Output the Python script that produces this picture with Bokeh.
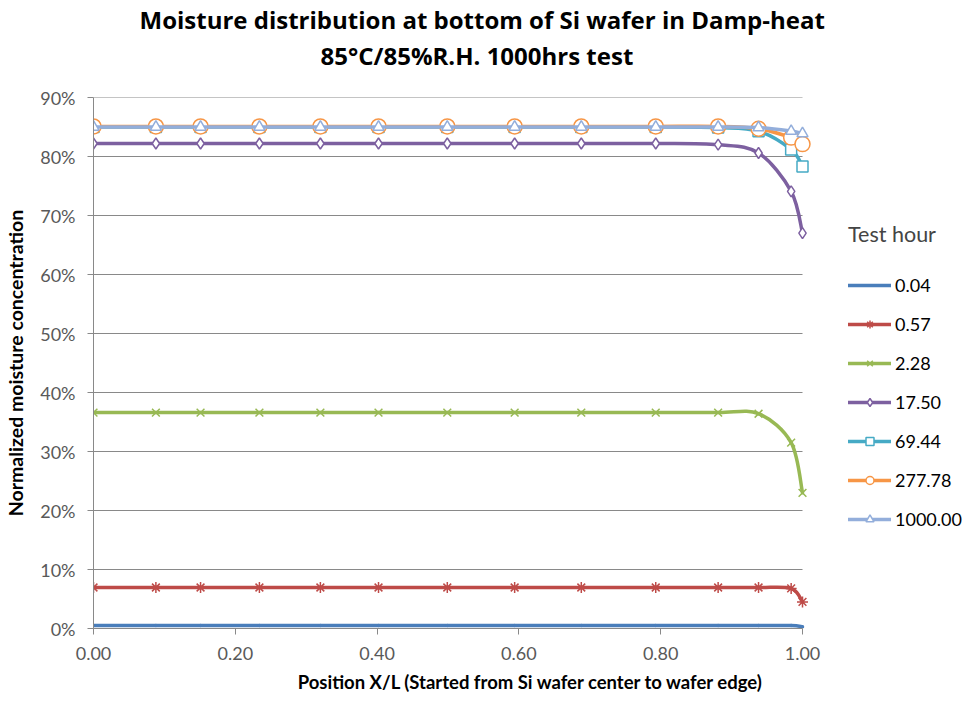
from bokeh.plotting import figure
from bokeh.models import (Range1d, FixedTicker, NumeralTickFormatter, Legend, Title,
                          LegendItem, ColumnDataSource)
from bokeh.embed import file_html
from bokeh.resources import INLINE

# ---------------- data ----------------
position = [0.0, 0.088, 0.151, 0.234, 0.320, 0.402, 0.499, 0.594, 0.688, 0.793,
            0.881, 0.938, 0.984, 1.0]

test_hours = ["0.04", "0.57", "2.28", "17.50", "69.44", "277.78", "1000.00"]

h_0_04 = [0.005, 0.005, 0.005, 0.005, 0.005, 0.005, 0.005, 0.005, 0.005, 0.005,
          0.005, 0.005, 0.005, 0.003]
h_0_57 = [0.0695, 0.0695, 0.0695, 0.0695, 0.0695, 0.0695, 0.0695, 0.0695, 0.0695, 0.0695,
          0.0695, 0.0695, 0.068, 0.045]
h_2_28 = [0.366, 0.366, 0.366, 0.366, 0.366, 0.366, 0.366, 0.366, 0.366, 0.366,
          0.366, 0.364, 0.315, 0.230]
h_17_50 = [0.822, 0.822, 0.822, 0.822, 0.822, 0.822, 0.822, 0.822, 0.822, 0.822,
           0.820, 0.806, 0.741, 0.670]
h_69_44 = [0.850, 0.850, 0.850, 0.850, 0.850, 0.850, 0.850, 0.850, 0.850, 0.850,
           0.849, 0.843, 0.812, 0.783]
h_277_78 = [0.851, 0.851, 0.851, 0.851, 0.851, 0.851, 0.851, 0.851, 0.851, 0.851,
            0.851, 0.847, 0.832, 0.821]
h_1000 = [0.850, 0.850, 0.850, 0.850, 0.850, 0.850, 0.850, 0.850, 0.850, 0.850,
          0.850, 0.849, 0.843, 0.839]

series_values = [h_0_04, h_0_57, h_2_28, h_17_50, h_69_44, h_277_78, h_1000]
colors = ["#4A7EBB", "#BE4B48", "#98B954", "#7D60A0", "#46AAC5", "#F79646", "#93AEDB"]
markers = [None, "asterisk", "x", "diamond", "square", "circle", "triangle"]
marker_sizes = [0, 11, 11, 11, 11, 15, 11]

x_ticks = [0.0, 0.2, 0.4, 0.6, 0.8, 1.0]
y_ticks = [0.0, 0.1, 0.2, 0.3, 0.4, 0.5, 0.6, 0.7, 0.8, 0.9]

title_line1 = "Moisture distribution at bottom of Si wafer in Damp-heat"
title_line2 = "85°C/85%R.H. 1000hrs test"

FONT = "Lato"
TFONT = "Open Sans"
GRID = "#898989"
TXT = "#595959"


def smooth_segments(xs, ys):
    """Catmull-Rom style Bezier control points (Excel 'smoothed line')."""
    n = len(xs)
    out = {k: [] for k in ("x0", "y0", "x1", "y1", "cx0", "cy0", "cx1", "cy1")}
    for i in range(n - 1):
        im1 = max(i - 1, 0)
        ip2 = min(i + 2, n - 1)
        out["x0"].append(xs[i]); out["y0"].append(ys[i])
        out["x1"].append(xs[i + 1]); out["y1"].append(ys[i + 1])
        out["cx0"].append(xs[i] + (xs[i + 1] - xs[im1]) / 6.0)
        out["cy0"].append(ys[i] + (ys[i + 1] - ys[im1]) / 6.0)
        out["cx1"].append(xs[i + 1] - (xs[ip2] - xs[i]) / 6.0)
        out["cy1"].append(ys[i + 1] - (ys[ip2] - ys[i]) / 6.0)
    return out


# frame spans to the right edge of the page so that the legend can sit inside it;
# the visible axis and grid are limited to the data domain 0..1
X_MAX = 875.0 / 709.0
p = figure(width=968, height=702, x_range=Range1d(0, X_MAX), y_range=Range1d(0, 0.9),
           min_border_left=93, min_border_right=0, min_border_top=97, min_border_bottom=74,
           output_backend="svg", toolbar_location=None, outline_line_color=None,
           background_fill_color="white", border_fill_color="white")

# title: spacer + two lines stacked above the frame (added nearest-first)
p.add_layout(Title(text=" ", text_font_size="10px", standoff=11), "above")
p.add_layout(Title(text=title_line2, align="left", offset=227, text_font=TFONT,
                   text_font_size="24px", text_font_style="bold", standoff=1,
                   text_color="black", vertical_align="middle"), "above")
p.add_layout(Title(text=title_line1, align="left", offset=46, text_font=TFONT,
                   text_font_size="24px", text_font_style="bold", standoff=1,
                   text_color="black", vertical_align="middle"), "above")

p.xaxis.ticker = FixedTicker(ticks=x_ticks)
p.yaxis.ticker = FixedTicker(ticks=y_ticks)
p.xaxis.bounds = (x_ticks[0], x_ticks[-1])
p.xaxis.formatter = NumeralTickFormatter(format="0.00")
p.yaxis.formatter = NumeralTickFormatter(format="0%")
for ax in (p.xaxis, p.yaxis):
    ax.axis_line_color = GRID
    ax.major_tick_line_color = GRID
    ax.major_tick_out = 6
    ax.major_tick_in = 0
    ax.minor_tick_line_color = None
    ax.major_label_text_font = FONT
    ax.major_label_text_font_size = "18px"
    ax.major_label_text_color = TXT
    ax.axis_label_text_font = FONT
    ax.axis_label_text_font_style = "bold"
    ax.axis_label_text_color = "black"
p.xaxis.axis_label = "Position X/L (Started from Si wafer center to wafer edge)"
p.yaxis.axis_label = "Normalized moisture concentration"
p.xaxis.axis_label_text_font_size = "18.5px"
p.yaxis.axis_label_text_font_size = "19.5px"
p.xaxis.major_label_standoff = 12
p.yaxis.major_label_standoff = 12
p.xaxis.axis_label_standoff = 8
p.yaxis.axis_label_standoff = 10

# horizontal gridlines over the data domain only
p.xgrid.visible = False
p.ygrid.visible = False
p.segment(x0=[x_ticks[0]] * len(y_ticks), x1=[x_ticks[-1]] * len(y_ticks),
          y0=y_ticks, y1=y_ticks, line_color=GRID, line_width=1)

items = []
for label, ys, col, mk, ms in zip(test_hours, series_values, colors, markers, marker_sizes):
    seg = ColumnDataSource(smooth_segments(position, ys))
    rs = [p.bezier(x0="x0", y0="y0", x1="x1", y1="y1", cx0="cx0", cy0="cy0",
                   cx1="cx1", cy1="cy1", source=seg, line_color=col, line_width=3.5,
                   line_cap="round")]
    if mk is not None:
        rs.append(p.scatter(position, ys, marker=mk, size=ms, line_color=col,
                            fill_color="white", line_width=1.5))
    items.append(LegendItem(label=label, renderers=rs))

legend = Legend(items=items, location=(755, 98), title="Test hour",
                title_text_font=FONT, title_text_font_size="21.5px", title_text_font_style="normal",
                title_standoff=27, label_text_font=FONT, label_text_font_size="18px",
                label_text_color="black", glyph_width=43, glyph_height=20, label_height=20,
                label_standoff=4, spacing=17, padding=0, margin=0,
                border_line_color=None, background_fill_alpha=0)
p.add_layout(legend)

open("out.html", "w").write(file_html(p, INLINE))
